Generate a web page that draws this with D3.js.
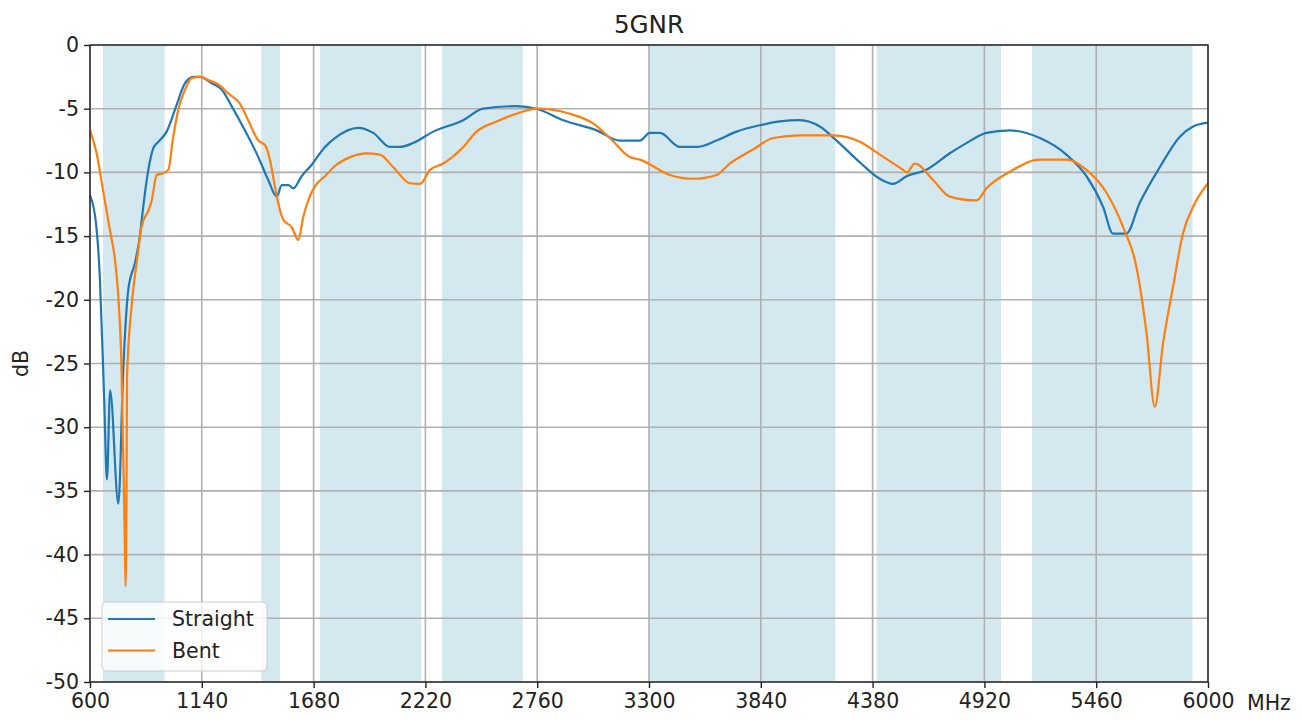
<!DOCTYPE html>
<html><head><meta charset="utf-8">
<script src="https://cdn.jsdelivr.net/npm/d3@7"></script>
<style>body{margin:0;background:#fff;} svg{display:block;font-family:"DejaVu Sans",sans-serif;}</style>
</head><body>
<svg id="c" width="1302" height="720"></svg>
<script>
const title = "5GNR";
const xTicks = [600,1140,1680,2220,2760,3300,3840,4380,4920,5460,6000];
const yTicks = [0,-5,-10,-15,-20,-25,-30,-35,-40,-45,-50];
const bandStart = [663,1427,1710,2300,3300,4400,5150];
const bandEnd   = [960,1518,2200,2690,4200,5000,5925];
const seriesNames = ["Straight","Bent"];
const straightFreq = [600,629,648,668,682,697,737,761,785,817,841,850,874,906,930,970,1010,1059,1099,1131,1188,1236,1284,1348,1413,1461,1502,1526,1558,1582,1622,1671,1735,1783,1896,1968,2049,2097,2160,2258,2403,2499,2660,2757,2886,3047,3159,3256,3304,3353,3449,3530,3626,3723,3835,3932,4029,4125,4206,4318,4415,4479,4544,4640,4753,4833,4930,5043,5188,5316,5413,5493,5541,5606,5670,5767,5864,5928,6000];
const straightDb = [-11.8,-14.0,-18.4,-27.6,-34.1,-27.1,-36.0,-25.3,-19.2,-17.1,-15.0,-13.7,-10.6,-8.1,-7.6,-6.8,-5.1,-3.0,-2.5,-2.5,-3.0,-3.5,-4.8,-6.7,-8.8,-10.6,-11.9,-11.0,-11.0,-11.25,-10.3,-9.4,-8.0,-7.3,-6.5,-6.9,-8.0,-8.0,-7.7,-6.8,-5.9,-5.0,-4.8,-5.0,-5.9,-6.7,-7.5,-7.5,-6.9,-6.9,-8.0,-8.0,-7.5,-6.8,-6.3,-6.0,-5.9,-6.4,-7.5,-9.2,-10.5,-10.9,-10.3,-9.8,-8.5,-7.7,-6.9,-6.7,-7.3,-8.6,-10.3,-12.7,-14.8,-14.8,-12.4,-9.6,-7.2,-6.4,-6.1];
const bentFreq = [600,632,663,697,721,737,752,767,772,776,779,801,826,850,882,898,922,946,978,1002,1026,1059,1091,1131,1171,1220,1268,1324,1364,1413,1445,1469,1493,1509,1533,1574,1606,1630,1654,1686,1735,1783,1856,1936,2000,2065,2145,2194,2242,2306,2403,2467,2564,2660,2757,2918,3030,3111,3208,3256,3401,3513,3626,3691,3803,3900,4029,4189,4318,4415,4527,4545,4584,4672,4753,4882,4930,5043,5188,5316,5413,5510,5590,5654,5703,5743,5783,5831,5879,5928,6000];
const bentDb = [-6.7,-8.5,-11.4,-14.6,-16.9,-19.8,-25.2,-38.0,-42.5,-36.0,-26.0,-20.5,-17.0,-14.2,-13.0,-12.2,-10.2,-10.1,-9.8,-7.2,-5.1,-3.5,-2.6,-2.5,-2.75,-3.1,-3.8,-4.6,-5.9,-7.5,-7.85,-9.0,-11.1,-12.4,-13.7,-14.3,-15.3,-13.5,-12.2,-11.1,-10.3,-9.5,-8.8,-8.5,-8.6,-9.6,-10.85,-10.9,-9.8,-9.3,-8.0,-6.8,-6.0,-5.4,-5.0,-5.4,-6.15,-7.3,-8.8,-9.0,-10.2,-10.5,-10.2,-9.3,-8.2,-7.3,-7.1,-7.1,-7.6,-8.6,-9.8,-10.0,-9.3,-10.6,-11.9,-12.2,-11.25,-9.95,-9.0,-9.0,-9.8,-11.6,-14.3,-17.4,-22.6,-28.4,-23.4,-19.0,-14.8,-12.7,-10.85];
const colors = ["#1f77b4","#ff7f0e"];

const svg = d3.select("#c");
const L=90, R=1208, T=45, B=682;
const x = d3.scaleLinear().domain([600,6000]).range([L,R]);
const y = d3.scaleLinear().domain([-50,0]).range([B,T]);

svg.append("defs").append("clipPath").attr("id","clip").append("rect")
  .attr("x",L).attr("y",T).attr("width",R-L).attr("height",B-T);

// bands
svg.append("g").selectAll("rect").data(bandStart).join("rect")
  .attr("x",(d)=>x(d)).attr("y",T)
  .attr("width",(d,i)=>x(bandEnd[i])-x(d)).attr("height",B-T)
  .attr("fill","#a9d2e2").attr("fill-opacity",0.5);

// grid
const g = svg.append("g");
g.selectAll(".vx").data(xTicks).join("line")
  .attr("x1",d=>x(d)).attr("x2",d=>x(d)).attr("y1",T).attr("y2",B)
  .attr("stroke","#b0b0b0").attr("stroke-width",1.6);
g.selectAll(".hy").data(yTicks).join("line")
  .attr("y1",d=>y(d)).attr("y2",d=>y(d)).attr("x1",L).attr("x2",R)
  .attr("stroke","#b0b0b0").attr("stroke-width",1.6);

// lines
const line = d3.line().x(d=>x(d[0])).y(d=>y(d[1])).curve(d3.curveMonotoneX);
const series = [d3.zip(straightFreq,straightDb), d3.zip(bentFreq,bentDb)];
svg.append("g").attr("clip-path","url(#clip)").selectAll("path").data(series).join("path")
  .attr("d",line).attr("fill","none").attr("stroke",(d,i)=>colors[i])
  .attr("stroke-width",2.2).attr("stroke-linejoin","round");

// axes
const fs = 20.5;
const xAxis = d3.axisBottom(x).tickValues(xTicks).tickFormat(d3.format("d")).tickSize(6).tickPadding(5);
const yAxis = d3.axisLeft(y).tickValues(yTicks).tickFormat(d=>String(d)).tickSize(6).tickPadding(5);
const gx = svg.append("g").attr("transform",`translate(0,${B})`).call(xAxis);
const gy = svg.append("g").attr("transform",`translate(${L},0)`).call(yAxis);
[gx,gy].forEach(a=>{
  a.select(".domain").remove();
  a.selectAll("line").attr("stroke","#222").attr("stroke-width",1.4);
  a.selectAll("text").attr("font-size",fs).attr("fill","#222").attr("font-family","DejaVu Sans");
});
// frame
svg.append("rect").attr("x",L).attr("y",T).attr("width",R-L).attr("height",B-T)
  .attr("fill","none").attr("stroke","#222").attr("stroke-width",1.4);

svg.append("text").attr("x",1247).attr("y",B+28).attr("font-size",fs).attr("fill","#222").text("MHz");
svg.append("text").attr("transform",`translate(28,${(T+B)/2}) rotate(-90)`).attr("text-anchor","middle")
  .attr("font-size",fs).attr("fill","#222").text("dB");
svg.append("text").attr("x",(L+R)/2).attr("y",33).attr("text-anchor","middle")
  .attr("font-size",24.6).attr("fill","#222").text(title);

// legend
const lg = svg.append("g");
lg.append("rect").attr("x",102).attr("y",602).attr("width",165).attr("height",69).attr("rx",4)
  .attr("fill","#fff").attr("fill-opacity",0.8).attr("stroke","#ccc");
seriesNames.forEach((n,i)=>{
  const yy = 619 + i*31.5;
  lg.append("line").attr("x1",108).attr("x2",155).attr("y1",yy).attr("y2",yy)
    .attr("stroke",colors[i]).attr("stroke-width",2.2);
  lg.append("text").attr("x",172).attr("y",yy+7).attr("font-size",fs).attr("fill","#222").text(n);
});
</script>
</body></html>
